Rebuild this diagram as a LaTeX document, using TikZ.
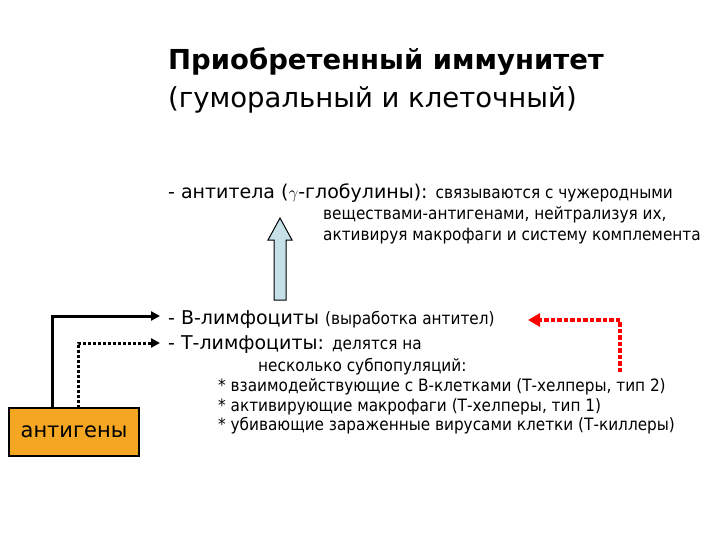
\documentclass[tikz,border=0pt]{standalone}
\usepackage{fontspec}
\setmainfont{DejaVu Sans}
\newfontfamily\condf{DejaVu Sans Condensed}
\usetikzlibrary{arrows.meta}
\definecolor{orangebox}{HTML}{F5A623}
\definecolor{arrowblue}{HTML}{C5E0E6}
\begin{document}
\begin{tikzpicture}[x=1pt,y=-1pt,
  txt/.style={anchor=west,inner sep=0pt},
  big/.style={txt,font=\fontsize{19}{22}\selectfont},
  small/.style={txt,font=\condf\fontsize{17}{19}\selectfont},
  conn/.style={line width=3pt,-{Triangle[length=9pt,width=9pt]}}]
\useasboundingbox (0,0) rectangle (720,540);
\node[txt,font=\bfseries\fontsize{27.5}{30}\selectfont] (t1) at (168,62) {Приобретенный иммунитет};
\node[txt,font=\fontsize{27.5}{30}\selectfont] (t2) at (168,100) {(гуморальный и клеточный)};
\node[big] (ab) at (168,193) {- антитела ($\gamma$-глобулины): {\condf\fontsize{17}{19}\selectfont связываются с чужеродными}};
\node[small] (ab2) at (323,215) {веществами-антигенами, нейтрализуя их,};
\node[small] (ab3) at (323,236) {активируя макрофаги и систему комплемента};
\node[big] (bl) at (168,320) {- В-лимфоциты {\condf\fontsize{17}{19}\selectfont(выработка антител)}};
\node[big] (tl) at (168,345) {- Т-лимфоциты: {\condf\fontsize{17}{19}\selectfont делятся на}};
\node[small] (s0) at (258,367) {несколько субпопуляций:};
\node[small] (s1) at (218,387) {* взаимодействующие с В-клетками (Т-хелперы, тип 2)};
\node[small] (s2) at (218,407) {* активирующие макрофаги (Т-хелперы, тип 1)};
\node[small] (s3) at (218,426) {* убивающие зараженные вирусами клетки (Т-киллеры)};
\node[draw,line width=2.5pt,fill=orangebox,minimum width=130,minimum height=48,font=\fontsize{21}{24}\selectfont,inner sep=0pt] (ag) at (74,432) {антигены};
% blue up arrow
\draw[fill=arrowblue,line width=1pt] (274,300) -- (274,240) -- (268,240) -- (280,218) -- (292,240) -- (286,240) -- (286,300) -- cycle;
\coordinate (bin) at (160,316);
\coordinate (tin) at (160,343);
\draw[conn] (52,408) |- (bin);
\draw[conn,dotted] (78,408) |- (tin);
\coordinate (rstart) at (620,372);
\coordinate (rend) at (528,320);
\draw[line width=4.5pt,red,dotted,-{Triangle[length=12pt,width=13pt]}] (rstart) |- (rend);
\end{tikzpicture}
\end{document}
